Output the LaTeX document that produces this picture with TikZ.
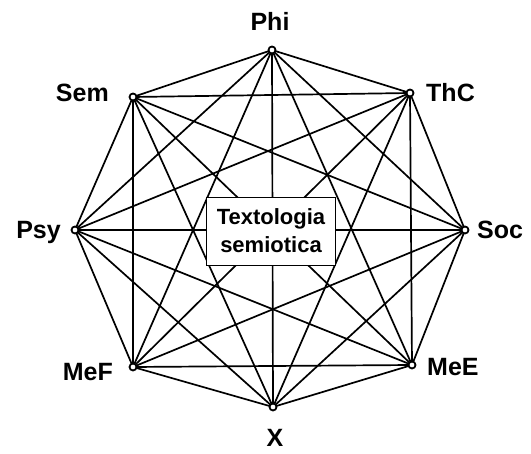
\documentclass[tikz,border=0pt]{standalone}
\usepackage{fontspec}
\setmainfont{Liberation Sans}
\begin{document}
\begin{tikzpicture}[x=1pt,y=-1pt,
  vtx/.style={circle,draw,fill=white,line width=1.8pt,inner sep=0pt,minimum size=7pt},
  lbl/.style={font=\fontsize{25}{28}\selectfont\bfseries,inner sep=0pt},
  edge/.style={line width=1.7pt,black},
  centerbox/.style={draw,fill=white,line width=0.8pt,minimum width=129pt,minimum height=68pt,align=center,inner sep=2pt,font=\fontsize{22}{28}\selectfont\bfseries}]
\useasboundingbox (0,0) rectangle (531,454);
\coordinate (v1) at (272,50);
\coordinate (v2) at (410,93);
\coordinate (v3) at (465,230);
\coordinate (v4) at (412,365);
\coordinate (v5) at (273,407);
\coordinate (v6) at (133,367);
\coordinate (v7) at (75,230);
\coordinate (v8) at (133,97);
\foreach \i in {1,...,8}{
  \foreach \j in {1,...,8}{
    \ifnum\i<\j \draw[edge] (v\i) -- (v\j); \fi
  }
}
\foreach \i in {1,...,8}{ \node[vtx] (n\i) at (v\i) {}; }
\node[centerbox] (c) at (271,231) {Textologia\\semiotica};
\node[lbl,anchor=base] (lPhi) at (270,31) {Phi};
\node[lbl,anchor=base west] (lThC) at (426,102) {ThC};
\node[lbl,anchor=base west] (lSoc) at (477,239) {Soc};
\node[lbl,anchor=base west] (lMeE) at (427,376) {MeE};
\node[lbl,anchor=base] (lX) at (275,447) {X};
\node[lbl,anchor=base east] (lMeF) at (113,381) {MeF};
\node[lbl,anchor=base east] (lPsy) at (61,239) {Psy};
\node[lbl,anchor=base east] (lSem) at (109,102) {Sem};
\end{tikzpicture}
\end{document}
